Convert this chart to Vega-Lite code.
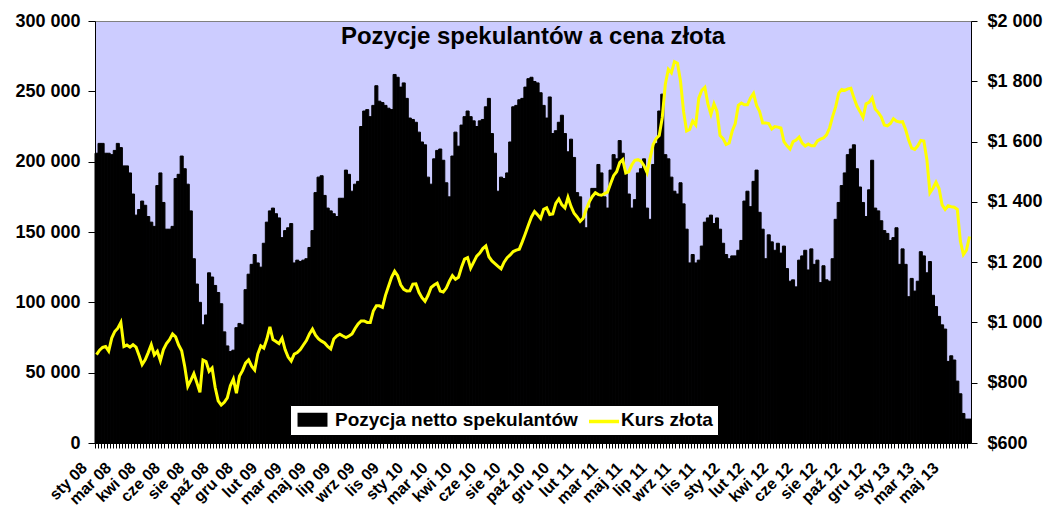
{
  "$schema": "https://vega.github.io/schema/vega-lite/v6.json",
  "width": 876,
  "height": 422,
  "autosize": {"type": "none"},
  "padding": {"left": 95, "top": 21, "right": 83, "bottom": 75},
  "background": "white",
  "title": {
    "text": "Pozycje spekulantów a cena złota",
    "font": "Liberation Sans",
    "fontSize": 24,
    "fontWeight": "bold",
    "color": "black",
    "anchor": "middle",
    "offset": -37
  },
  "data": {
    "values": [
      {"w":0,"pos":206000,"gold":893},{"w":1,"pos":213000,"gold":908},{"w":2,"pos":213000,"gold":917},{"w":3,"pos":206000,"gold":920},
      {"w":4,"pos":206000,"gold":905},{"w":5,"pos":205000,"gold":948},{"w":6,"pos":208000,"gold":970},{"w":7,"pos":213000,"gold":981},
      {"w":8,"pos":210000,"gold":1000},{"w":9,"pos":197000,"gold":920},{"w":10,"pos":197000,"gold":925},{"w":11,"pos":192000,"gold":918},
      {"w":12,"pos":177000,"gold":926},{"w":13,"pos":162000,"gold":918},{"w":14,"pos":166000,"gold":890},{"w":15,"pos":172000,"gold":860},
      {"w":16,"pos":169000,"gold":876},{"w":17,"pos":161000,"gold":900},{"w":18,"pos":157000,"gold":926},{"w":19,"pos":154000,"gold":892},
      {"w":20,"pos":183000,"gold":904},{"w":21,"pos":192000,"gold":873},{"w":22,"pos":171000,"gold":910},{"w":23,"pos":152000,"gold":930},
      {"w":24,"pos":152000,"gold":943},{"w":25,"pos":154000,"gold":962},{"w":26,"pos":188000,"gold":952},{"w":27,"pos":191000,"gold":925},
      {"w":28,"pos":204000,"gold":906},{"w":29,"pos":195000,"gold":854},{"w":30,"pos":184000,"gold":788},{"w":31,"pos":165000,"gold":808},
      {"w":32,"pos":131000,"gold":830},{"w":33,"pos":113000,"gold":800},{"w":34,"pos":100000,"gold":768},{"w":35,"pos":84000,"gold":875},
      {"w":36,"pos":91000,"gold":870},{"w":37,"pos":121000,"gold":838},{"w":38,"pos":118000,"gold":849},{"w":39,"pos":112000,"gold":785},
      {"w":40,"pos":107000,"gold":740},{"w":41,"pos":99000,"gold":726},{"w":42,"pos":79000,"gold":735},{"w":43,"pos":69000,"gold":750},
      {"w":44,"pos":65000,"gold":790},{"w":45,"pos":66000,"gold":812},{"w":46,"pos":82000,"gold":765},{"w":47,"pos":85000,"gold":822},
      {"w":48,"pos":84000,"gold":840},{"w":49,"pos":109000,"gold":865},{"w":50,"pos":120000,"gold":876},{"w":51,"pos":127000,"gold":855},
      {"w":52,"pos":134000,"gold":842},{"w":53,"pos":128000,"gold":895},{"w":54,"pos":125000,"gold":922},{"w":55,"pos":142000,"gold":915},
      {"w":56,"pos":157000,"gold":945},{"w":57,"pos":165000,"gold":985},{"w":58,"pos":167000,"gold":943},{"w":59,"pos":163000,"gold":937},
      {"w":60,"pos":160000,"gold":930},{"w":61,"pos":146000,"gold":948},{"w":62,"pos":151000,"gold":910},{"w":63,"pos":153000,"gold":885},
      {"w":64,"pos":156000,"gold":872},{"w":65,"pos":128000,"gold":895},{"w":66,"pos":130000,"gold":900},{"w":67,"pos":129000,"gold":910},
      {"w":68,"pos":130000,"gold":925},{"w":69,"pos":131000,"gold":940},{"w":70,"pos":139000,"gold":962},{"w":71,"pos":151000,"gold":978},
      {"w":72,"pos":178000,"gold":958},{"w":73,"pos":189000,"gold":945},{"w":74,"pos":190000,"gold":938},{"w":75,"pos":176000,"gold":932},
      {"w":76,"pos":167000,"gold":920},{"w":77,"pos":165000,"gold":912},{"w":78,"pos":163000,"gold":945},{"w":79,"pos":161000,"gold":955},
      {"w":80,"pos":174000,"gold":961},{"w":81,"pos":174000,"gold":955},{"w":82,"pos":194000,"gold":950},{"w":83,"pos":191000,"gold":955},
      {"w":84,"pos":179000,"gold":962},{"w":85,"pos":184000,"gold":980},{"w":86,"pos":186000,"gold":995},{"w":87,"pos":225000,"gold":1005},
      {"w":88,"pos":236000,"gold":1005},{"w":89,"pos":237000,"gold":1000},{"w":90,"pos":232000,"gold":1000},{"w":91,"pos":240000,"gold":1038},
      {"w":92,"pos":254000,"gold":1055},{"w":93,"pos":243000,"gold":1055},{"w":94,"pos":242000,"gold":1050},{"w":95,"pos":240000,"gold":1090},
      {"w":96,"pos":238000,"gold":1120},{"w":97,"pos":237000,"gold":1150},{"w":98,"pos":262000,"gold":1170},{"w":99,"pos":260000,"gold":1155},
      {"w":100,"pos":253000,"gold":1125},{"w":101,"pos":256000,"gold":1110},{"w":102,"pos":245000,"gold":1104},{"w":103,"pos":231000,"gold":1105},
      {"w":104,"pos":230000,"gold":1127},{"w":105,"pos":228000,"gold":1128},{"w":106,"pos":221000,"gold":1100},{"w":107,"pos":214000,"gold":1082},
      {"w":108,"pos":212000,"gold":1070},{"w":109,"pos":189000,"gold":1090},{"w":110,"pos":184000,"gold":1116},{"w":111,"pos":202000,"gold":1124},
      {"w":112,"pos":208000,"gold":1130},{"w":113,"pos":209000,"gold":1104},{"w":114,"pos":201000,"gold":1101},{"w":115,"pos":185000,"gold":1114},
      {"w":116,"pos":175000,"gold":1137},{"w":117,"pos":204000,"gold":1155},{"w":118,"pos":221000,"gold":1143},{"w":119,"pos":211000,"gold":1150},
      {"w":120,"pos":226000,"gold":1183},{"w":121,"pos":232000,"gold":1210},{"w":122,"pos":236000,"gold":1215},{"w":123,"pos":232000,"gold":1180},
      {"w":124,"pos":229000,"gold":1200},{"w":125,"pos":225000,"gold":1220},{"w":126,"pos":229000,"gold":1230},{"w":127,"pos":230000,"gold":1245},
      {"w":128,"pos":239000,"gold":1254},{"w":129,"pos":245000,"gold":1218},{"w":130,"pos":220000,"gold":1204},{"w":131,"pos":206000,"gold":1195},
      {"w":132,"pos":179000,"gold":1186},{"w":133,"pos":189000,"gold":1178},{"w":134,"pos":188000,"gold":1200},{"w":135,"pos":192000,"gold":1215},
      {"w":136,"pos":214000,"gold":1224},{"w":137,"pos":239000,"gold":1235},{"w":138,"pos":240000,"gold":1240},{"w":139,"pos":244000,"gold":1243},
      {"w":140,"pos":245000,"gold":1268},{"w":141,"pos":253000,"gold":1295},{"w":142,"pos":259000,"gold":1323},{"w":143,"pos":260000,"gold":1350},
      {"w":144,"pos":257000,"gold":1368},{"w":145,"pos":256000,"gold":1357},{"w":146,"pos":249000,"gold":1345},{"w":147,"pos":240000,"gold":1375},
      {"w":148,"pos":231000,"gold":1380},{"w":149,"pos":246000,"gold":1358},{"w":150,"pos":220000,"gold":1360},{"w":151,"pos":222000,"gold":1395},
      {"w":152,"pos":228000,"gold":1410},{"w":153,"pos":233000,"gold":1390},{"w":154,"pos":220000,"gold":1380},{"w":155,"pos":207000,"gold":1415},
      {"w":156,"pos":216000,"gold":1385},{"w":157,"pos":203000,"gold":1362},{"w":158,"pos":178000,"gold":1350},{"w":159,"pos":175000,"gold":1335},
      {"w":160,"pos":160000,"gold":1346},{"w":161,"pos":153000,"gold":1375},{"w":162,"pos":167000,"gold":1400},{"w":163,"pos":181000,"gold":1418},
      {"w":164,"pos":181000,"gold":1430},{"w":165,"pos":198000,"gold":1424},{"w":166,"pos":192000,"gold":1422},{"w":167,"pos":175000,"gold":1427},
      {"w":168,"pos":167000,"gold":1432},{"w":169,"pos":194000,"gold":1460},{"w":170,"pos":205000,"gold":1487},{"w":171,"pos":202000,"gold":1500},
      {"w":172,"pos":215000,"gold":1530},{"w":173,"pos":206000,"gold":1540},{"w":174,"pos":192000,"gold":1496},{"w":175,"pos":177000,"gold":1500},
      {"w":176,"pos":167000,"gold":1523},{"w":177,"pos":173000,"gold":1538},{"w":178,"pos":192000,"gold":1540},{"w":179,"pos":195000,"gold":1535},
      {"w":180,"pos":202000,"gold":1520},{"w":181,"pos":167000,"gold":1497},{"w":182,"pos":159000,"gold":1545},{"w":183,"pos":198000,"gold":1590},
      {"w":184,"pos":213000,"gold":1610},{"w":185,"pos":236000,"gold":1620},{"w":186,"pos":248000,"gold":1680},{"w":187,"pos":205000,"gold":1790},
      {"w":188,"pos":202000,"gold":1840},{"w":189,"pos":189000,"gold":1828},{"w":190,"pos":179000,"gold":1865},{"w":191,"pos":177000,"gold":1860},
      {"w":192,"pos":185000,"gold":1800},{"w":193,"pos":170000,"gold":1700},{"w":194,"pos":152000,"gold":1635},{"w":195,"pos":128000,"gold":1640},
      {"w":196,"pos":134000,"gold":1668},{"w":197,"pos":128000,"gold":1655},{"w":198,"pos":130000,"gold":1744},{"w":199,"pos":140000,"gold":1770},
      {"w":200,"pos":157000,"gold":1780},{"w":201,"pos":160000,"gold":1725},{"w":202,"pos":162000,"gold":1690},{"w":203,"pos":156000,"gold":1725},
      {"w":204,"pos":160000,"gold":1700},{"w":205,"pos":152000,"gold":1620},{"w":206,"pos":142000,"gold":1610},{"w":207,"pos":134000,"gold":1590},
      {"w":208,"pos":131000,"gold":1595},{"w":209,"pos":133000,"gold":1635},{"w":210,"pos":133000,"gold":1660},{"w":211,"pos":137000,"gold":1720},
      {"w":212,"pos":144000,"gold":1728},{"w":213,"pos":172000,"gold":1722},{"w":214,"pos":179000,"gold":1722},{"w":215,"pos":168000,"gold":1745},
      {"w":216,"pos":186000,"gold":1760},{"w":217,"pos":194000,"gold":1720},{"w":218,"pos":164000,"gold":1700},{"w":219,"pos":152000,"gold":1662},
      {"w":220,"pos":131000,"gold":1662},{"w":221,"pos":148000,"gold":1660},{"w":222,"pos":143000,"gold":1642},{"w":223,"pos":137000,"gold":1650},
      {"w":224,"pos":142000,"gold":1648},{"w":225,"pos":135000,"gold":1645},{"w":226,"pos":140000,"gold":1600},{"w":227,"pos":124000,"gold":1586},
      {"w":228,"pos":115000,"gold":1575},{"w":229,"pos":116000,"gold":1600},{"w":230,"pos":111000,"gold":1605},{"w":231,"pos":130000,"gold":1615},
      {"w":232,"pos":133000,"gold":1595},{"w":233,"pos":137000,"gold":1585},{"w":234,"pos":123000,"gold":1592},{"w":235,"pos":138000,"gold":1586},
      {"w":236,"pos":127000,"gold":1586},{"w":237,"pos":130000,"gold":1602},{"w":238,"pos":114000,"gold":1608},{"w":239,"pos":126000,"gold":1612},
      {"w":240,"pos":116000,"gold":1622},{"w":241,"pos":115000,"gold":1645},{"w":242,"pos":131000,"gold":1683},{"w":243,"pos":159000,"gold":1715},
      {"w":244,"pos":171000,"gold":1760},{"w":245,"pos":183000,"gold":1773},{"w":246,"pos":192000,"gold":1770},{"w":247,"pos":205000,"gold":1775},
      {"w":248,"pos":209000,"gold":1777},{"w":249,"pos":212000,"gold":1745},{"w":250,"pos":195000,"gold":1718},{"w":251,"pos":182000,"gold":1700},
      {"w":252,"pos":171000,"gold":1680},{"w":253,"pos":161000,"gold":1725},{"w":254,"pos":180000,"gold":1730},{"w":255,"pos":201000,"gold":1745},
      {"w":256,"pos":167000,"gold":1708},{"w":257,"pos":165000,"gold":1697},{"w":258,"pos":158000,"gold":1682},{"w":259,"pos":151000,"gold":1655},
      {"w":260,"pos":149000,"gold":1652},{"w":261,"pos":144000,"gold":1660},{"w":262,"pos":146000,"gold":1676},{"w":263,"pos":153000,"gold":1668},
      {"w":264,"pos":127000,"gold":1665},{"w":265,"pos":138000,"gold":1666},{"w":266,"pos":127000,"gold":1640},{"w":267,"pos":104000,"gold":1605},
      {"w":268,"pos":117000,"gold":1578},{"w":269,"pos":108000,"gold":1574},{"w":270,"pos":115000,"gold":1586},{"w":271,"pos":136000,"gold":1604},
      {"w":272,"pos":133000,"gold":1602},{"w":273,"pos":121000,"gold":1540},{"w":274,"pos":129000,"gold":1430},{"w":275,"pos":105000,"gold":1445},
      {"w":276,"pos":97000,"gold":1465},{"w":277,"pos":90000,"gold":1444},{"w":278,"pos":84000,"gold":1390},{"w":279,"pos":81000,"gold":1375},
      {"w":280,"pos":58000,"gold":1387},{"w":281,"pos":62000,"gold":1384},{"w":282,"pos":59000,"gold":1382},{"w":283,"pos":44000,"gold":1375},
      {"w":284,"pos":35000,"gold":1270},{"w":285,"pos":21000,"gold":1225},{"w":286,"pos":17000,"gold":1240},{"w":287,"pos":17000,"gold":1285}
    ]
  },
  "encoding": {
    "x": {
      "field": "w",
      "type": "ordinal",
      "scale": {"paddingInner": 0, "paddingOuter": 0},
      "axis": {
        "title": null,
        "bandPosition": 0,
        "tickSize": 5,
        "tickColor": "black",
        "domainColor": "black",
        "labelAngle": -45,
        "labelAlign": "right",
        "labelBaseline": "middle",
        "labelPadding": 17,
        "labelOffset": -12,
        "labelOverlap": false,
        "labelFont": "Liberation Sans",
        "labelFontSize": 16,
        "labelFontWeight": "bold",
        "labelColor": "black",
        "labelExpr": "datum.value % 8 === 0 ? ['sty','lut','mar','kwi','maj','cze','lip','sie','wrz','paź','lis','gru'][month(datetime(2008, 0, 8 + 7 * datum.value))] + ' ' + slice('' + year(datetime(2008, 0, 8 + 7 * datum.value)), 2) : ''"
      }
    }
  },
  "layer": [
    {
      "mark": {"type": "bar", "stroke": "black", "strokeWidth": 1},
      "encoding": {
        "y": {
          "field": "pos",
          "type": "quantitative",
          "scale": {"domain": [0, 300000], "nice": false},
          "axis": {
            "title": null,
            "grid": false,
            "values": [0, 50000, 100000, 150000, 200000, 250000, 300000],
            "labelExpr": "replace(format(datum.value, ','), ',', ' ')",
            "tickSize": 7,
            "tickColor": "black",
            "domainColor": "black",
            "labelPadding": 8,
            "labelFont": "Liberation Sans",
            "labelFontSize": 18,
            "labelFontWeight": "bold",
            "labelColor": "black"
          }
        },
        "fill": {
          "datum": "Pozycja netto spekulantów",
          "type": "nominal",
          "scale": {
            "domain": ["Pozycja netto spekulantów", "Kurs złota"],
            "range": ["black", "transparent"]
          },
          "legend": {
            "title": null,
            "orient": "none",
            "legendX": 195,
            "legendY": 384,
            "direction": "horizontal",
            "fillColor": "white",
            "strokeColor": "black",
            "padding": 5,
            "labelFont": "Liberation Sans",
            "labelFontSize": 19,
            "labelFontWeight": "bold",
            "labelColor": "black",
            "labelLimit": 400,
            "symbolType": "M-2.14,-1L2.14,-1L2.14,1L-2.14,1Z",
            "symbolSize": 196,
            "symbolOffset": 8,
            "symbolStrokeWidth": 0,
            "symbolOpacity": 1,
            "labelOffset": 13,
            "columnPadding": 3,
            "zindex": 1
          }
        }
      }
    },
    {
      "mark": {"type": "line", "strokeWidth": 3},
      "encoding": {
        "y": {
          "field": "gold",
          "type": "quantitative",
          "scale": {"domain": [600, 2000], "nice": false},
          "axis": {
            "orient": "right",
            "title": null,
            "grid": false,
            "values": [600, 800, 1000, 1200, 1400, 1600, 1800, 2000],
            "labelExpr": "'$' + replace(format(datum.value, ','), ',', ' ')",
            "tickSize": 6,
            "tickColor": "black",
            "domainColor": "black",
            "labelPadding": 10,
            "labelFont": "Liberation Sans",
            "labelFontSize": 18,
            "labelFontWeight": "bold",
            "labelColor": "black"
          }
        },
        "stroke": {
          "datum": "Kurs złota",
          "type": "nominal",
          "scale": {"domain": ["Kurs złota"], "range": ["#FFFF00"]},
          "legend": {
            "title": null,
            "orient": "none",
            "legendX": 492,
            "legendY": 383.5,
            "padding": 0,
            "symbolType": "stroke",
            "symbolSize": 900,
            "symbolStrokeWidth": 3.5,
            "symbolOpacity": 1,
            "labelExpr": "''",
            "labelOffset": 0,
            "zindex": 2
          }
        }
      }
    }
  ],
  "resolve": {"scale": {"y": "independent"}},
  "config": {
    "view": {"fill": "#CCCCFF", "stroke": "#808080", "strokeWidth": 1}
  }
}
